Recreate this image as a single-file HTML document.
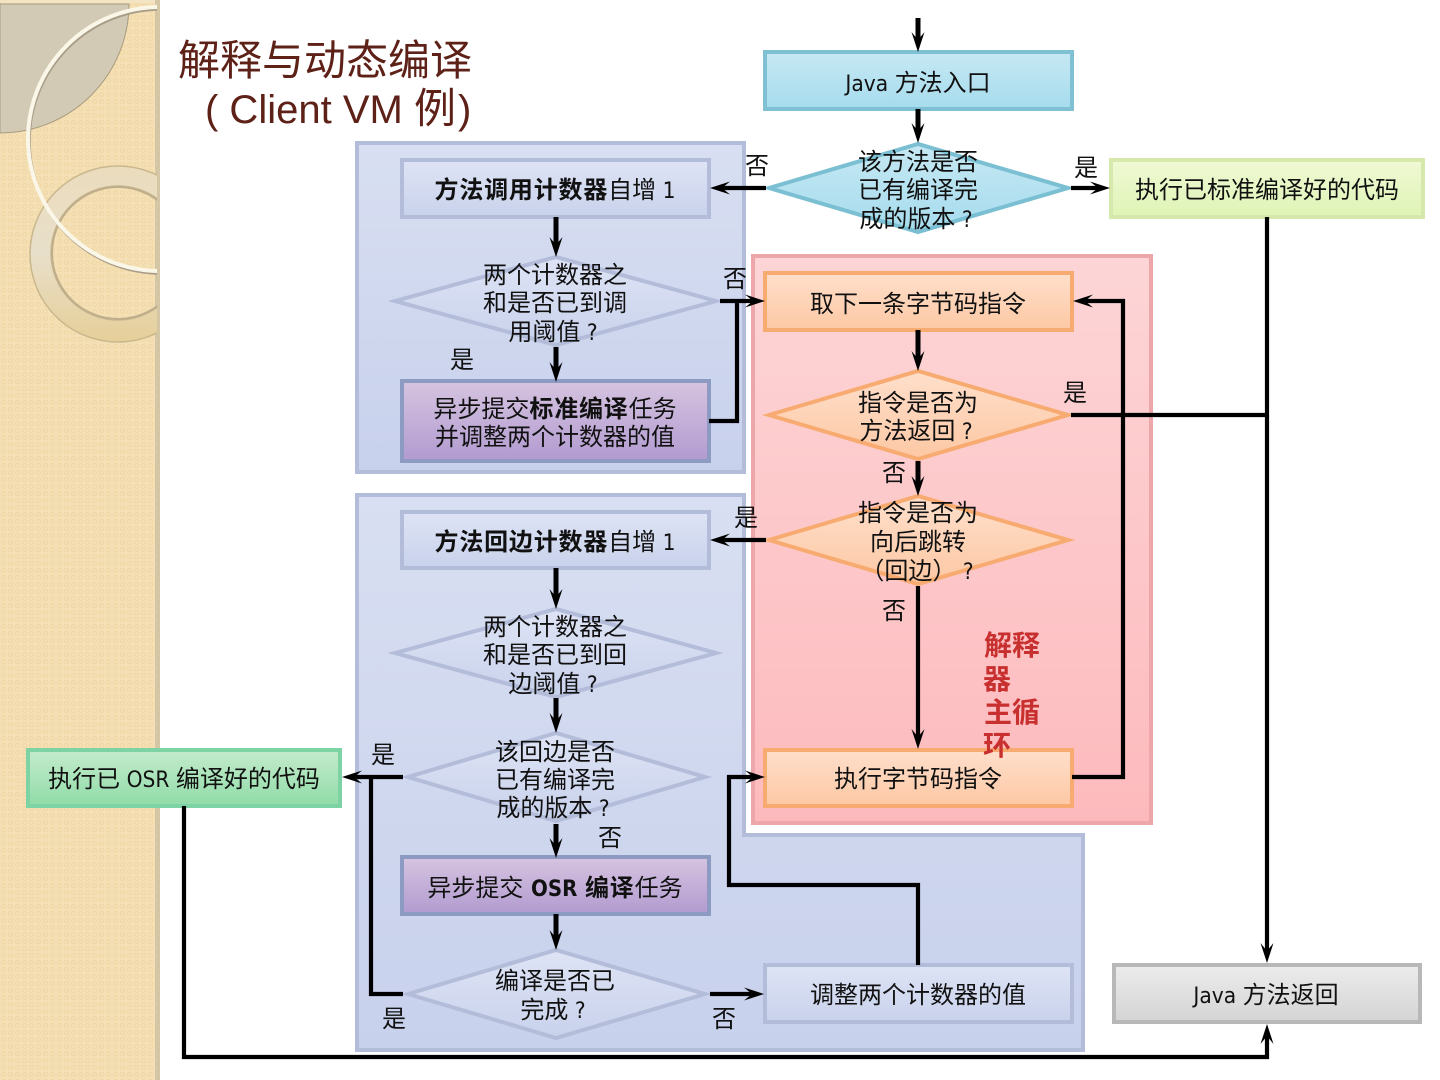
<!DOCTYPE html>
<html lang="zh">
<head>
<meta charset="utf-8">
<style>
html,body{margin:0;padding:0;background:#fff;width:1440px;height:1080px;overflow:hidden}
svg{display:block}
text{font-family:"DejaVu Sans","WenQuanYi Zen Hei","Noto Sans CJK SC",sans-serif;font-size:24px;fill:#111;text-anchor:middle}
.b{font-weight:bold;letter-spacing:.8px}
.m{font-family:"DejaVu Sans Condensed","DejaVu Sans",sans-serif;font-size:22.5px;letter-spacing:0}
.mb{font-family:"DejaVu Sans Condensed","DejaVu Sans",sans-serif;font-size:22px;font-weight:bold}
.l{stroke:#000;stroke-width:4.2;fill:none;stroke-linejoin:miter}
.s{stroke:#000;stroke-width:5;fill:none}
.t{font-family:"Liberation Sans","WenQuanYi Zen Hei","Noto Sans CJK SC",sans-serif;font-size:42px;fill:#5e2118}
.r{font-size:28px;fill:#c8302f;font-weight:bold}
</style>
</head>
<body>
<svg width="1440" height="1080" viewBox="0 0 1440 1080" xmlns="http://www.w3.org/2000/svg">
<defs>
<pattern id="dots" width="7" height="7" patternUnits="userSpaceOnUse">
<rect width="7" height="7" fill="#f5e0b6"/>
<circle cx="3.5" cy="3.5" r="2" fill="none" stroke="#efd6a2" stroke-width="1"/>
</pattern>
<marker id="a" markerUnits="userSpaceOnUse" markerWidth="20" markerHeight="14" refX="12" refY="7" orient="auto" viewBox="0 0 20 14">
<path d="M20,7 L0,.5 L8,7 L0,13.5Z" fill="#000"/>
</marker>
<linearGradient id="gblue" x1="0" y1="0" x2="0" y2="1"><stop offset="0" stop-color="#c6e8f3"/><stop offset="1" stop-color="#a6dcee"/></linearGradient>
<linearGradient id="gpanel" x1="0" y1="0" x2="0" y2="1"><stop offset="0" stop-color="#d8dff2"/><stop offset="1" stop-color="#c8d1ec"/></linearGradient>
<linearGradient id="gbox" x1="0" y1="0" x2="0" y2="1"><stop offset="0" stop-color="#dee4f5"/><stop offset="1" stop-color="#c9d2ec"/></linearGradient>
<linearGradient id="gpink" x1="0" y1="0" x2="0" y2="1"><stop offset="0" stop-color="#fdd5d6"/><stop offset="1" stop-color="#fdbabd"/></linearGradient>
<linearGradient id="gor" x1="0" y1="0" x2="0" y2="1"><stop offset="0" stop-color="#fedfcb"/><stop offset="1" stop-color="#fdc8a4"/></linearGradient>
<linearGradient id="gpur" x1="0" y1="0" x2="0" y2="1"><stop offset="0" stop-color="#d6c4e0"/><stop offset="1" stop-color="#b19bd0"/></linearGradient>
<linearGradient id="glime" x1="0" y1="0" x2="0" y2="1"><stop offset="0" stop-color="#f0f9d4"/><stop offset="1" stop-color="#dff4b6"/></linearGradient>
<linearGradient id="ggreen" x1="0" y1="0" x2="0" y2="1"><stop offset="0" stop-color="#c4ebcc"/><stop offset="1" stop-color="#90dca8"/></linearGradient>
<linearGradient id="ggray" x1="0" y1="0" x2="0" y2="1"><stop offset="0" stop-color="#ececec"/><stop offset="1" stop-color="#d4d4d4"/></linearGradient>
<linearGradient id="gring" x1="0" y1="0" x2="0" y2="1"><stop offset="0" stop-color="#ebdcbc"/><stop offset=".5" stop-color="#e8dfca"/><stop offset="1" stop-color="#e6cf98"/></linearGradient>
<clipPath id="side"><rect x="0" y="0" width="157" height="1080"/></clipPath>
</defs>

<!-- sidebar -->
<rect x="0" y="0" width="155" height="1080" fill="url(#dots)"/>
<rect x="155" y="0" width="5" height="1080" fill="#d5c6a6"/>
<g clip-path="url(#side)">
<path d="M0,4 H129 A129,129 0 0 1 0,133 Z" fill="#d2cab4" stroke="#a89c80" stroke-width="1"/>
<path fill-rule="evenodd" d="M30,254 a88,88 0 1 0 176,0 a88,88 0 1 0 -176,0 Z M51,253 a67,67 0 1 0 134,0 a67,67 0 1 0 -134,0 Z" fill="url(#gring)" stroke="#c9b78e" stroke-width="1.5"/>
<circle cx="118" cy="253" r="66" fill="none" stroke="#bfae8c" stroke-width="2"/>
<circle cx="160" cy="139" r="132" fill="none" stroke="#a89d88" stroke-width="3.5" transform="translate(1,2)"/>
<circle cx="160" cy="139" r="132" fill="none" stroke="#fbf7e8" stroke-width="4"/>
</g>
<rect x="0" y="0" width="155" height="3" fill="#f3e4c4"/>

<!-- title -->
<text x="325" y="75" class="t">解释与动态编译</text>
<text x="205" y="123" class="t" style="text-anchor:start"><tspan style="font-size:40px">( Client VM </tspan>例<tspan dx="2" style="font-size:40px">)</tspan></text>

<!-- panels -->
<rect x="357" y="143" width="387" height="329" fill="url(#gpanel)" stroke="#b3bcd9" stroke-width="4"/>
<polygon points="357,495 744,495 744,835 1083,835 1083,1050 357,1050" fill="url(#gpanel)" stroke="#b3bcd9" stroke-width="4"/>
<rect x="753" y="256" width="398" height="567" fill="url(#gpink)" stroke="#eda7ab" stroke-width="4"/>

<!-- nodes -->
<rect x="765" y="52" width="307" height="57" fill="url(#gblue)" stroke="#7fc0d2" stroke-width="4"/>
<polygon points="769,188 918,144 1068,188 918,232" fill="url(#gblue)" stroke="#7bbfd3" stroke-width="4"/>
<rect x="1111" y="160" width="312" height="57" fill="url(#glime)" stroke="#d6e8ab" stroke-width="4"/>
<rect x="402" y="160" width="307" height="57" fill="url(#gbox)" stroke="#b3bcd9" stroke-width="4"/>
<polygon points="395,301 556,257 716,301 556,345" fill="url(#gbox)" stroke="#b3bcd9" stroke-width="4"/>
<rect x="402" y="381" width="307" height="80" fill="url(#gpur)" stroke="#8d9ac2" stroke-width="4"/>
<rect x="765" y="273" width="307" height="57" fill="url(#gor)" stroke="#f8ab71" stroke-width="4"/>
<polygon points="769,415 918,371 1068,415 918,459" fill="url(#gor)" stroke="#f8ab71" stroke-width="4"/>
<polygon points="769,540 918,496 1068,540 918,584" fill="url(#gor)" stroke="#f8ab71" stroke-width="4"/>
<rect x="402" y="512" width="307" height="56" fill="url(#gbox)" stroke="#b3bcd9" stroke-width="4"/>
<polygon points="395,653 556,609 716,653 556,697" fill="url(#gbox)" stroke="#b3bcd9" stroke-width="4"/>
<polygon points="408,777 556,733 705,777 556,821" fill="url(#gbox)" stroke="#b3bcd9" stroke-width="4"/>
<rect x="402" y="857" width="307" height="57" fill="url(#gpur)" stroke="#8d9ac2" stroke-width="4"/>
<polygon points="408,994 556,950 705,994 556,1038" fill="url(#gbox)" stroke="#b3bcd9" stroke-width="4"/>
<rect x="765" y="750" width="307" height="56" fill="url(#gor)" stroke="#f8ab71" stroke-width="4"/>
<rect x="28" y="750" width="312" height="56" fill="url(#ggreen)" stroke="#7dd3a4" stroke-width="4"/>
<rect x="765" y="965" width="307" height="57" fill="url(#gbox)" stroke="#b3bcd9" stroke-width="4"/>
<rect x="1114" y="965" width="306" height="57" fill="url(#ggray)" stroke="#b8b8b8" stroke-width="4"/>

<!-- connectors -->
<g class="s">
<path d="M918,18 V44" marker-end="url(#a)"/>
<path d="M918,109 V135" marker-end="url(#a)"/>
<path d="M556,217 V249" marker-end="url(#a)"/>
<path d="M556,347 V374" marker-end="url(#a)"/>
<path d="M918,330 V363" marker-end="url(#a)"/>
<path d="M918,461 V488" marker-end="url(#a)"/>
<path d="M556,568 V601" marker-end="url(#a)"/>
<path d="M556,698 V725" marker-end="url(#a)"/>
<path d="M556,824 V850" marker-end="url(#a)"/>
<path d="M556,914 V942" marker-end="url(#a)"/>
</g>
<g class="l">
<path d="M766,188 H718" marker-end="url(#a)"/>
<path d="M1071,188 H1102" marker-end="url(#a)"/>
<path d="M1267,217 V955" marker-end="url(#a)"/>
<path d="M184,806 V1057 H1267 V1032" marker-end="url(#a)"/>
<path d="M709,421 H737 V301"/>
<path d="M720,301 H757" marker-end="url(#a)"/>
<path d="M918,586 V741" marker-end="url(#a)"/>
<path d="M1072,777 H1123 V301 H1081" marker-end="url(#a)"/>
<path d="M1071,415 H1267"/>
<path d="M766,540 H718" marker-end="url(#a)"/>
<path d="M403,777 H350" marker-end="url(#a)"/>
<path d="M403,994 H371 V777"/>
<path d="M710,994 H756" marker-end="url(#a)"/>
<path d="M918,965 V885 H729 V777 H757" marker-end="url(#a)"/>
</g>

<!-- node text -->
<text x="918" y="91"><tspan class="m">Java </tspan>方法入口</text>
<text x="918" y="170">该方法是否</text>
<text x="918" y="198">已有编译完</text>
<text x="916" y="227">成的版本<tspan class="m"> ?</tspan></text>
<text x="1267" y="198">执行已标准编译好的代码</text>
<text x="555" y="198"><tspan class="b">方法调用计数器</tspan>自增<tspan class="m"> 1</tspan></text>
<text x="555" y="283">两个计数器之</text>
<text x="555" y="311">和是否已到调</text>
<text x="553" y="340">用阈值<tspan class="m"> ?</tspan></text>
<text x="555" y="417">异步提交<tspan class="b">标准编译</tspan>任务</text>
<text x="555" y="445">并调整两个计数器的值</text>
<text x="918" y="312">取下一条字节码指令</text>
<text x="918" y="411">指令是否为</text>
<text x="916" y="439">方法返回<tspan class="m"> ?</tspan></text>
<text x="918" y="521">指令是否为</text>
<text x="918" y="550">向后跳转</text>
<text x="917" y="579">（回边）<tspan class="m"> ?</tspan></text>
<text x="555" y="550"><tspan class="b">方法回边计数器</tspan>自增<tspan class="m"> 1</tspan></text>
<text x="555" y="635">两个计数器之</text>
<text x="555" y="663">和是否已到回</text>
<text x="553" y="692">边阈值<tspan class="m"> ?</tspan></text>
<text x="555" y="760">该回边是否</text>
<text x="555" y="788">已有编译完</text>
<text x="553" y="816">成的版本<tspan class="m"> ?</tspan></text>
<text x="555" y="896">异步提交 <tspan class="mb">OSR</tspan> <tspan class="b">编译</tspan>任务</text>
<text x="555" y="989">编译是否已</text>
<text x="553" y="1018">完成<tspan class="m"> ?</tspan></text>
<text x="918" y="787">执行字节码指令</text>
<text x="184" y="787">执行已<tspan class="m"> OSR </tspan>编译好的代码</text>
<text x="918" y="1003">调整两个计数器的值</text>
<text x="1266" y="1003"><tspan class="m">Java </tspan>方法返回</text>

<!-- edge labels -->
<text x="757" y="174">否</text>
<text x="1086" y="176">是</text>
<text x="735" y="287">否</text>
<text x="462" y="368">是</text>
<text x="1075" y="401">是</text>
<text x="894" y="481">否</text>
<text x="746" y="526">是</text>
<text x="894" y="619">否</text>
<text x="383" y="763">是</text>
<text x="610" y="846">否</text>
<text x="394" y="1027">是</text>
<text x="724" y="1027">否</text>

<!-- red label -->
<text x="1012" y="655" class="r">解释</text>
<text x="997" y="689" class="r">器</text>
<text x="1012" y="722" class="r">主循</text>
<text x="997" y="755" class="r">环</text>
</svg>
</body>
</html>
